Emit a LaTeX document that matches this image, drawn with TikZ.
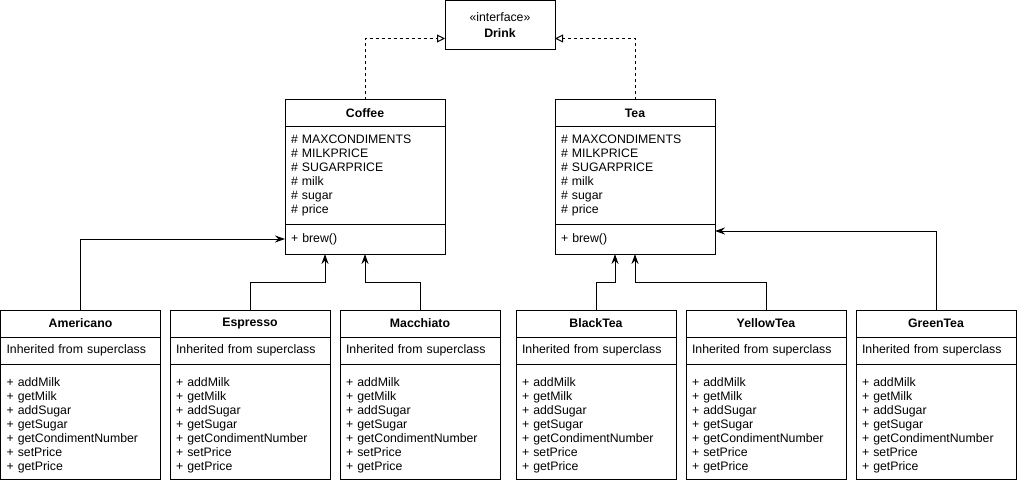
\documentclass[tikz,border=0pt]{standalone}
\usepackage{fontspec}
\setmainfont{Liberation Sans}
\usetikzlibrary{arrows.meta,positioning}

\begin{document}
\begin{tikzpicture}[x=1pt,y=-1pt,line width=1pt,
		every node/.style={font=\fontsize{12.3}{14}\selectfont, outer sep=0pt},
		classname/.style={draw, minimum width=160pt, minimum height=27pt, inner sep=0pt, anchor=north west, font=\fontsize{12.3}{14}\selectfont\bfseries},
		members/.style={draw, text width=148pt, inner xsep=6pt, inner ysep=0pt, align=left},
		inherits/.style={-{Stealth[length=10pt,width=7pt]}},
		realizes/.style={dash pattern=on 3pt off 3pt, -{Triangle[open,length=8pt,width=8pt]}}]
		\useasboundingbox (0,0) rectangle (1017,484);
		
		% interface
		\node[draw, minimum width=110pt, minimum height=49pt, anchor=north west, align=center] (drink) at (445,1) {«interface»\\[2pt]\textbf{Drink}};
		
		% superclasses
		\node[classname] (coffee) at (285,100) {Coffee};
		\node[members, below=0pt of coffee, minimum height=97pt] (coffeeattr) {\# MAXCONDIMENTS\\\# MILKPRICE\\\# SUGARPRICE\\\# milk\\\# sugar\\\# price};
		\node[members, below=0pt of coffeeattr, minimum height=30pt] (coffeeops) {+ brew()};
		
		\node[classname] (tea) at (555,100) {Tea};
		\node[members, below=0pt of tea, minimum height=97pt] (teaattr) {\# MAXCONDIMENTS\\\# MILKPRICE\\\# SUGARPRICE\\\# milk\\\# sugar\\\# price};
		\node[members, below=0pt of teaattr, minimum height=30pt] (teaops) {+ brew()};
		
		% subclasses
		\node[classname] (americano) at (0.5,310) {Americano};
		\node[members, below=0pt of americano, minimum height=27pt] (americanoinh) {Inherited from superclass};
		\node[members, below=0pt of americanoinh, minimum height=115pt] (americanoops) {\rule{0pt}{17pt}+ addMilk\\+ getMilk\\+ addSugar\\+ getSugar\\+ getCondimentNumber\\+ setPrice\\+ getPrice};
		
		\node[classname] (espresso) at (170,310) {Espresso};
		\node[members, below=0pt of espresso, minimum height=27pt] (espressoinh) {Inherited from superclass};
		\node[members, below=0pt of espressoinh, minimum height=115pt] (espressoops) {\rule{0pt}{17pt}+ addMilk\\+ getMilk\\+ addSugar\\+ getSugar\\+ getCondimentNumber\\+ setPrice\\+ getPrice};
		
		\node[classname] (macchiato) at (340,310) {Macchiato};
		\node[members, below=0pt of macchiato, minimum height=27pt] (macchiatoinh) {Inherited from superclass};
		\node[members, below=0pt of macchiatoinh, minimum height=115pt] (macchiatoops) {\rule{0pt}{17pt}+ addMilk\\+ getMilk\\+ addSugar\\+ getSugar\\+ getCondimentNumber\\+ setPrice\\+ getPrice};
		
		\node[classname] (blacktea) at (516,310) {BlackTea};
		\node[members, below=0pt of blacktea, minimum height=27pt] (blackteainh) {Inherited from superclass};
		\node[members, below=0pt of blackteainh, minimum height=115pt] (blackteaops) {\rule{0pt}{17pt}+ addMilk\\+ getMilk\\+ addSugar\\+ getSugar\\+ getCondimentNumber\\+ setPrice\\+ getPrice};
		
		\node[classname] (yellowtea) at (686,310) {YellowTea};
		\node[members, below=0pt of yellowtea, minimum height=27pt] (yellowteainh) {Inherited from superclass};
		\node[members, below=0pt of yellowteainh, minimum height=115pt] (yellowteaops) {\rule{0pt}{17pt}+ addMilk\\+ getMilk\\+ addSugar\\+ getSugar\\+ getCondimentNumber\\+ setPrice\\+ getPrice};
		
		\node[classname] (greentea) at (856,310) {GreenTea};
		\node[members, below=0pt of greentea, minimum height=27pt] (greenteainh) {Inherited from superclass};
		\node[members, below=0pt of greenteainh, minimum height=115pt] (greenteaops) {\rule{0pt}{17pt}+ addMilk\\+ getMilk\\+ addSugar\\+ getSugar\\+ getCondimentNumber\\+ setPrice\\+ getPrice};
		
		% realization
		\draw[realizes] (coffee.north) |- ([yshift=-13pt]drink.west);
		\draw[realizes] (tea.north) |- ([yshift=-13pt]drink.east);
		
		% inheritance
		\draw[inherits] (americano.north) |- (coffeeops.west);
		\draw[inherits] (espresso.north) -- ++(0,-28) -| ([xshift=-40pt]coffeeops.south);
		\draw[inherits] (macchiato.north) -- ++(0,-28) -| (coffeeops.south);
		\draw[inherits] (blacktea.north) -- ++(0,-28) -| ([xshift=-20pt]teaops.south);
		\draw[inherits] (yellowtea.north) -- ++(0,-28) -| (teaops.south);
		\draw[inherits] (greentea.north) |- ([yshift=8pt]teaops.east);
	\end{tikzpicture}
\end{document}
